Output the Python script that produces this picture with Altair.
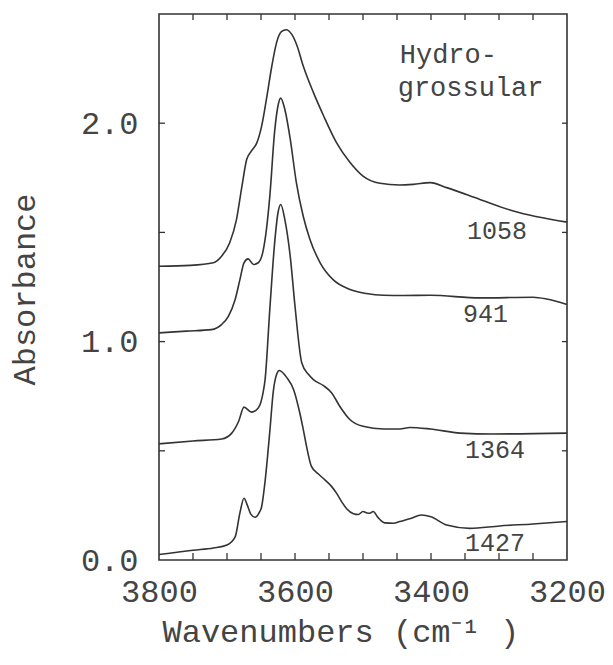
import altair as alt
import pandas as pd

# ---- data -------------------------------------------------------------
wn_1058 = [3800, 3754, 3720, 3708, 3696, 3686, 3678, 3671, 3664, 3656, 3649, 3642,
           3634, 3627, 3620, 3613, 3605, 3597, 3588, 3573, 3558, 3539, 3519, 3500,
           3475, 3446, 3426, 3401, 3377, 3328, 3279, 3200]
ab_1058 = [1.345, 1.349, 1.361, 1.391, 1.453, 1.56, 1.712, 1.835, 1.873, 1.911, 1.988, 2.11,
           2.263, 2.37, 2.419, 2.428, 2.408, 2.355, 2.263, 2.141, 2.034, 1.911, 1.82, 1.758,
           1.725, 1.717, 1.72, 1.728, 1.705, 1.651, 1.598, 1.547]

wn_941 = [3800, 3760, 3723, 3708, 3698, 3688, 3681, 3675, 3669, 3661, 3654, 3647, 3642,
          3637, 3630, 3625, 3621, 3615, 3607, 3598, 3588, 3578, 3563, 3544, 3519, 3495,
          3470, 3440, 3401, 3328, 3250, 3230, 3200]
ab_941 = [1.04, 1.048, 1.055, 1.078, 1.116, 1.193, 1.284, 1.361, 1.379, 1.353, 1.361, 1.414, 1.514,
          1.667, 1.96, 2.08, 2.115, 2.064, 1.927, 1.728, 1.575, 1.468, 1.361, 1.284, 1.239, 1.22,
          1.212, 1.211, 1.212, 1.20, 1.203, 1.195, 1.17]

wn_1364 = [3800, 3750, 3708, 3693, 3683, 3675, 3664, 3654, 3647, 3644, 3637, 3630, 3625,
           3621, 3615, 3607, 3600, 3590, 3580, 3573, 3558, 3546, 3534, 3519, 3500, 3470,
           3446, 3431, 3401, 3357, 3309, 3200]
ab_1364 = [0.532, 0.545, 0.554, 0.581, 0.634, 0.70, 0.677, 0.696, 0.765, 0.826, 1.15, 1.45, 1.59,
           1.628, 1.56, 1.39, 1.162, 0.902, 0.849, 0.826, 0.798, 0.765, 0.703, 0.642, 0.612, 0.60,
           0.60, 0.607, 0.60, 0.581, 0.577, 0.581]

wn_1427 = [3800, 3750, 3720, 3700, 3688, 3681, 3675, 3670, 3665, 3659, 3653, 3649, 3644,
           3637, 3632, 3627, 3623, 3612, 3602, 3593, 3588, 3583, 3576, 3566, 3556, 3546,
           3539, 3531, 3524, 3514, 3507, 3500, 3494, 3490, 3485, 3478, 3468, 3455, 3446,
           3430, 3414, 3400, 3377, 3343, 3299, 3250, 3200]
ab_1427 = [0.025, 0.045, 0.055, 0.069, 0.106, 0.216, 0.283, 0.25, 0.21, 0.196, 0.215, 0.245, 0.36,
           0.59, 0.77, 0.85, 0.868, 0.835, 0.78, 0.674, 0.60, 0.52, 0.43, 0.395, 0.367, 0.336,
           0.306, 0.265, 0.235, 0.212, 0.208, 0.222, 0.215, 0.214, 0.222, 0.195, 0.17, 0.168, 0.176,
           0.19, 0.206, 0.198, 0.16, 0.145, 0.156, 0.165, 0.176]

series_names = ["1058", "941", "1364", "1427"]
label_wn = [3347, 3353, 3350, 3350]
label_ab = [1.468, 1.092, 0.468, 0.041]

note_lines = ["Hydro-", "grossular"]
note_wn = [3446, 3449]
note_ab = [2.275, 2.124]

x_label_values = [3800, 3600, 3400, 3200]
y_label_values = [0.0, 1.0, 2.0]
x_tick_values = [3750, 3700, 3650, 3600, 3550, 3500, 3450, 3400, 3350, 3300, 3250]
y_tick_values = [0.5, 1.0, 1.5, 2.0]

# ---- build tables --------------------------------------------------------
rows = []
for name, ws, ab in zip(series_names, [wn_1058, wn_941, wn_1364, wn_1427],
                        [ab_1058, ab_941, ab_1364, ab_1427]):
    for w, a in zip(ws, ab):
        rows.append({"series": name, "wn": w, "abs": a})
df = pd.DataFrame(rows)

labels_df = pd.DataFrame({"text": series_names, "wn": label_wn, "abs": label_ab})
notes_df = pd.DataFrame({"text": note_lines, "wn": note_wn, "abs": note_ab})
xt_df = pd.DataFrame({"wn": x_tick_values})
yt_df = pd.DataFrame({"abs": y_tick_values})

W, H = 408, 546
INK = "#333333"
TXT = "#444444"
FONT = "Liberation Mono"

xscale = alt.Scale(domain=[3800, 3200], nice=False, zero=False)
yscale = alt.Scale(domain=[0, 2.5], nice=False, zero=False)

x_axis = alt.Axis(values=x_label_values, format="d", ticks=False, domain=False, grid=False,
                  labelFont=FONT, labelFontSize=32, labelColor=TXT, labelPadding=16,
                  labelFlush=False, labelOverlap=False,
                  title="Wavenumbers  (cm⁻¹ )", titleFont=FONT, titleFontSize=32,
                  titleFontWeight="normal", titleColor=TXT, titleAlign="left",
                  titleBaseline="alphabetic", titleX=3, titleY=81)
y_axis = alt.Axis(values=y_label_values, format=".1f", ticks=False, domain=False, grid=False,
                  labelFont=FONT, labelFontSize=32, labelColor=TXT, labelPadding=21,
                  labelFlush=False, labelOverlap=False, labelBaseline="middle",
                  title="Absorbance", titleFont=FONT, titleFontSize=32,
                  titleFontWeight="normal", titleColor=TXT, titleAngle=-90,
                  titleAlign="center", titleBaseline="middle", titleX=-135, titleY=275)

X = alt.X("wn:Q", scale=xscale, axis=x_axis)
Y = alt.Y("abs:Q", scale=yscale, axis=y_axis)

lines = alt.Chart(df).mark_line(color=INK, strokeWidth=1.6, interpolate="monotone").encode(
    x=X, y=Y, detail="series:N", order="wn:Q")

tick_len = 7
bottom_ticks = alt.Chart(xt_df).mark_rule(color=INK, strokeWidth=1.3).encode(
    x=X, y=alt.value(H), y2=alt.value(H - tick_len))
top_ticks = alt.Chart(xt_df).mark_rule(color=INK, strokeWidth=1.3).encode(
    x=X, y=alt.value(0), y2=alt.value(tick_len - 1))
left_ticks = alt.Chart(yt_df).mark_rule(color=INK, strokeWidth=1.3).encode(
    y=Y, x=alt.value(0), x2=alt.value(tick_len - 1))
right_ticks = alt.Chart(yt_df).mark_rule(color=INK, strokeWidth=1.3).encode(
    y=Y, x=alt.value(W), x2=alt.value(W - tick_len + 2))

series_labels = alt.Chart(labels_df).mark_text(
    font=FONT, fontSize=25, color=TXT, align="left", baseline="alphabetic").encode(
    x=X, y=Y, text="text:N")

notes = alt.Chart(notes_df).mark_text(
    font=FONT, fontSize=27, color=TXT, align="left", baseline="alphabetic").encode(
    x=X, y=Y, text="text:N")

chart = alt.layer(lines, bottom_ticks, top_ticks, left_ticks, right_ticks,
                  series_labels, notes).properties(
    width=W, height=H,
    autosize=alt.AutoSizeParams(type="none"),
    padding={"left": 159, "top": 14, "right": 46, "bottom": 105},
    background="white",
).configure_view(stroke=INK, strokeWidth=1.6)

chart.save("out.html", embed_options={"renderer": "svg", "actions": False})
